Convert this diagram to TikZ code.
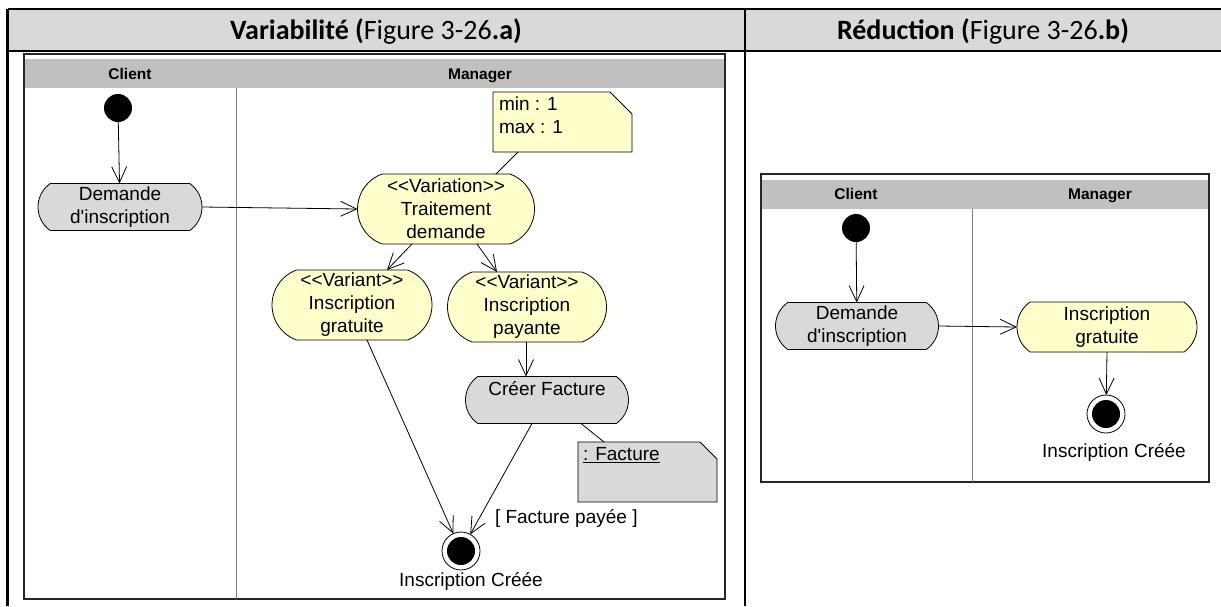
\documentclass[tikz,border=0pt]{standalone}
\usepackage{fontspec}
\setmainfont{Liberation Sans}[Ligatures=TeXOff]
\newfontfamily\calibfont{Carlito}
\usetikzlibrary{arrows.meta,shapes.misc,calc,backgrounds}
\definecolor{hdrgray}{HTML}{D9D9D9}
\definecolor{lanegray}{HTML}{C0C0C0}
\definecolor{actgray}{HTML}{D9D9D9}
\definecolor{actyellow}{HTML}{FFFFCC}
\definecolor{divgray}{HTML}{808080}
\begin{document}
\begin{tikzpicture}[x=1pt,y=-1pt,
  every node/.style={font=\fontsize{19}{23}\selectfont, inner sep=0pt, outer sep=0pt},
  act/.style={draw, line width=0.8pt, rounded rectangle, rounded rectangle arc length=110, align=center, minimum height=47},
  tall/.style={act, rounded rectangle arc length=140, minimum height=70},
  gact/.style={fill=actgray},
  yact/.style={fill=actyellow},
  arr/.style={line width=0.8pt, -{Straight Barb[length=16pt,width=15pt,line width=0.8pt]}},
  link/.style={line width=0.8pt},
  initst/.style={circle, fill=black, minimum size=28},
  finst/.style={circle, draw, line width=0.8pt, minimum size=38},
  notebox/.style={rectangle, minimum width=139, minimum height=60, anchor=north west},
  lanehdr/.style={font=\fontsize{15.5}{17}\selectfont\bfseries, anchor=base},
  tline/.style={line width=2.5pt, black},
  frame/.style={line width=2.2pt, black!85},
  lanediv/.style={line width=1pt, divgray},
  title/.style={font=\calibfont\fontsize{28}{30}\selectfont, anchor=base}
]
\useasboundingbox (0,0) rectangle (1221,606);
% ---------- table ----------
\fill[hdrgray] (7.5,9) rectangle (1221,51);
\draw[tline] (7.5,9) -- (1221,9);
\draw[tline] (7.5,51) -- (1221,51);
\draw[tline] (7.5,9) -- (7.5,606);
\draw[tline] (745,9) -- (745,606);
\node[title] (ta) at (376,39) {\textbf{Variabilité (}Figure 3-26\textbf{.a)}};
\node[title] (tb) at (983,39) {\textbf{Réduction (}Figure 3-26\textbf{.b)}};

% ---------- left diagram frame ----------
\fill[lanegray] (24,59) rectangle (725,88);
\draw[frame] (24,54) rectangle (725,599);
\draw[lanediv] (236,88) -- (236,599);
\node[lanehdr] (lc) at (130,79) {Client};
\node[lanehdr] (lm) at (480,79) {Manager};

\node[initst] (ini) at (118,108) {};
\node[act, gact, minimum width=164] (dem) at (120,207) {Demande\\d'inscription};
\node[tall, yact, minimum width=177] (var) at (446,209) {<<Variation>>\\Traitement\\demande};
\node[tall, yact, minimum width=160] (gra) at (352,305) {<<Variant>>\\Inscription\\gratuite};
\node[tall, yact, minimum width=159] (pay) at (527,307) {<<Variant>>\\Inscription\\payante};
\node[act, gact, minimum width=163] (cre) at (547,400) {Créer Facture\\\mbox{}};
\node[finst] (fin) at (461,551) {};
\fill (fin.center) circle[radius=14pt];
\node (finl) at (471,581) {Inscription Créée};

\node[notebox] (n1) at (493,92) {};
\node[anchor=north west, align=left] (n1t) at ($(n1.north west)+(6,5)$) {min : 1\\max : 1};
\node[notebox] (fac) at (578,442) {};
\node[anchor=west] (fact) at ($(fac.north west)+(5,13)$) {\underline{: Facture}};
\begin{scope}[on background layer]
\draw[link, fill=actyellow] (n1.south west) -- (n1.north west) -- ($(n1.north east)+(-22,0)$) -- ($(n1.north east)+(0,22)$) -- (n1.south east) -- cycle;
\draw[link, fill=actgray] (fac.south west) -- (fac.north west) -- ($(fac.north east)+(-17,0)$) -- ($(fac.north east)+(0,17)$) -- (fac.south east) -- cycle;
\end{scope}

\draw[arr] (ini) -- (dem);
\draw[arr] (dem.east) -- (var.west);
\draw[link] ($(n1.south west)+(25,0)$) -- ($(var.north)+(50,0)$);
\draw[arr] ($(var.south)+(-34,0)$) -- ($(gra.north)+(35,0)$);
\draw[arr] ($(var.south)+(31,0)$) -- ($(pay.north)+(-30,0)$);
\draw[arr] ($(pay.south)+(-1,0)$) -- ($(cre.north)+(-21,0)$);
\draw[link] ($(cre.south)+(34,0)$) -- ($(fac.north west)+(26,0)$);
\draw[arr] ($(gra.south)+(15,0)$) -- (fin);
\draw[arr] ($(cre.south)+(-15,0)$) -- (fin);
\node[anchor=west] (guard) at (495,518) {[ Facture payée ]};

% ---------- right diagram frame ----------
\fill[lanegray] (761,180) rectangle (1209,209);
\draw[frame] (761,174) rectangle (1209,482);
\draw[lanediv] (972,209) -- (972,482);
\node[lanehdr] (rc) at (856,199) {Client};
\node[lanehdr] (rm) at (1100,199) {Manager};

\node[initst] (ini2) at (856,228) {};
\node[act, gact, minimum width=163] (dem2) at (857,326) {Demande\\d'inscription};
\node[act, yact, minimum width=180, minimum height=50] (gra2) at (1107,327) {Inscription\\gratuite};
\node[finst] (fin2) at (1106,414) {};
\fill (fin2.center) circle[radius=14pt];
\node (fin2l) at (1114,452) {Inscription Créée};

\draw[arr] (ini2) -- (dem2);
\draw[arr] (dem2.east) -- (gra2.west);
\draw[arr] (gra2.south) -- (fin2);
\end{tikzpicture}
\end{document}
